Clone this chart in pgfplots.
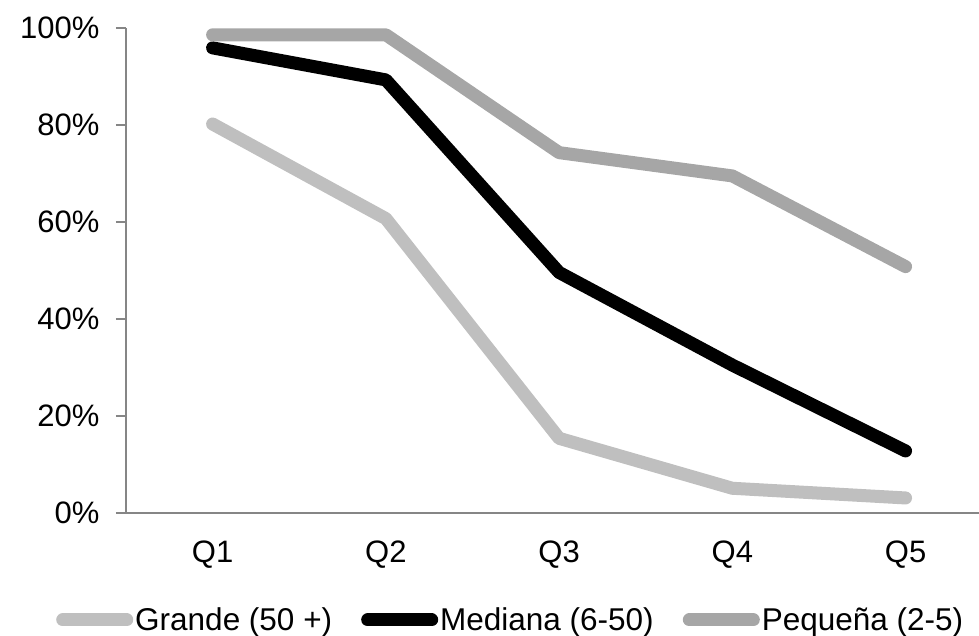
\documentclass[border=0pt]{standalone}
\usepackage{fontspec}
\setmainfont{Liberation Sans}
\usepackage{pgfplots}
\pgfplotsset{compat=1.18}
\usetikzlibrary{calc}
\definecolor{cgrande}{HTML}{BFBFBF}
\definecolor{cpeq}{HTML}{A6A6A6}
\definecolor{caxis}{HTML}{868686}
\begin{document}
\begin{tikzpicture}
\begin{axis}[
  scale only axis,
  width=853pt, height=485pt,
  xmin=0.5, xmax=5.424,
  ymin=0, ymax=100,
  clip=false,
  axis x line=bottom, axis y line=left,
  axis line style={caxis, line width=2pt, -},
  tick align=outside,
  major tick length=10pt,
  tick style={caxis, line width=2pt},
  xtick={1,2,3,4,5},
  xticklabels={Q1,Q2,Q3,Q4,Q5},
  x tick style={draw=none},
  extra x ticks={0.5,1.5,2.5,3.5,4.5},
  extra x tick labels={},
  extra x tick style={tick style={caxis, line width=2pt}},
  ytick={0,20,40,60,80,100},
  yticklabel={\pgfmathprintnumber{\tick}\%},
  /pgf/number format/assume math mode=true,
  tick label style={font=\fontsize{31}{37}\selectfont},
  xticklabel style={yshift=-14pt},
  yticklabel style={xshift=-13pt},
  legend columns=3,
  legend style={draw=none, fill=none, at={(0.451,-0.2206)}, anchor=center,
    font=\fontsize{31.5}{37}\selectfont,
    /tikz/every odd column/.append style={column sep=0pt},
    /tikz/every even column/.append style={column sep=27pt},
    inner sep=0pt},
  legend image code/.code={\draw[line width=13pt, line cap=round] (0pt,0pt) -- (64pt,0pt);},
  every axis plot/.append style={line width=13pt, line join=round, line cap=round},
]
\addplot[cgrande] coordinates {(1,80.2) (2,60.7) (3,15.4) (4,5.1) (5,3.1)};
\addlegendentry{Grande (50 +)}
\addplot[black] coordinates {(1,95.9) (2,89.3) (3,49.6) (4,30.5) (5,12.8)};
\addlegendentry{Mediana (6-50)}
\addplot[cpeq] coordinates {(1,98.6) (2,98.6) (3,74.3) (4,69.5) (5,50.8)};
\addlegendentry{Pequeña (2-5)}
\path (rel axis cs:0,0) coordinate (bl);
\path (rel axis cs:1,1) coordinate (tr);
\end{axis}
\pgfresetboundingbox
\useasboundingbox ($(bl)+(-126pt,-123pt)$) rectangle ($(tr)+(0pt,28pt)$);
\end{tikzpicture}
\end{document}
